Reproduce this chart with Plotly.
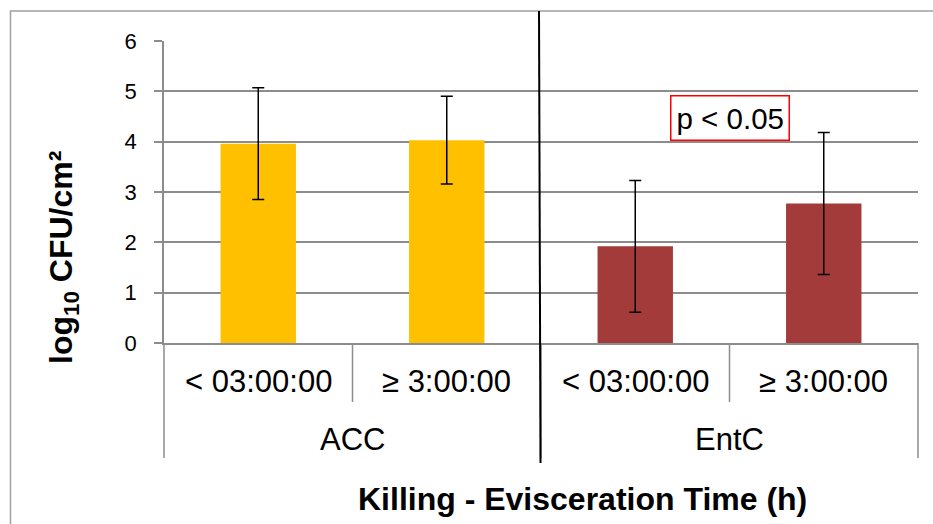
import plotly.graph_objects as go

groups = ["ACC", "ACC", "EntC", "EntC"]
times = ["< 03:00:00", "≥ 3:00:00", "< 03:00:00", "≥ 3:00:00"]
means = [3.96, 4.03, 1.92, 2.77]
errors = [1.11, 0.87, 1.31, 1.41]
bar_colors = ["#FFC000", "#FFC000", "#A33B3B", "#A33B3B"]
y_ticks = [0, 1, 2, 3, 4, 5, 6]
group_names = ["ACC", "EntC"]
p_label = "p < 0.05"
p_pos_y = 4.48

W, H = 933, 524
L, R, T, B = 164, 15, 41, 181
PW, PH = W - L - R, H - T - B

def px(xp):
    return (xp - L) / PW

def py(yp):
    return (H - B - yp) / PH

FONT = "Liberation Sans, Arial, sans-serif"
GRID = "#8c8c8c"

xs = list(range(len(means)))
fig = go.Figure()
fig.add_trace(go.Bar(
    x=xs, y=means, width=0.4, marker=dict(color=bar_colors, line=dict(width=0)),
    error_y=dict(type="data", array=errors, visible=True, color="black", thickness=1.5, width=6),
    showlegend=False,
))

shapes = []
# outer border
shapes.append(dict(type="rect", xref="paper", yref="paper", x0=px(10.5), x1=px(950), y0=py(545), y1=py(11),
                   line=dict(color="#a0a0a0", width=1.5), layer="below"))
n = len(means)
# category dividers
for k in range(n + 1):
    xb = k / n
    full = k in (0, n) or (k > 0 and k < n and groups[k - 1] != groups[k])
    shapes.append(dict(type="line", xref="paper", yref="paper", x0=xb, x1=xb, y0=0, y1=py(458 if full else 402),
                       line=dict(color=GRID, width=1.5)))
# black hand-drawn separator line
shapes.append(dict(type="line", xref="paper", yref="paper", x0=px(539), x1=px(540.5), y0=py(11), y1=py(463),
                   line=dict(color="black", width=2)))

annotations = []
for i, t in enumerate(times):
    annotations.append(dict(x=(i + 0.5) / n, xref="paper", y=py(382), yref="paper", text=t, showarrow=False,
                            font=dict(size=31, color="black", family=FONT), xanchor="center", yanchor="middle"))
for gi, g in enumerate(group_names):
    idx = [i for i, gg in enumerate(groups) if gg == g]
    cx = (min(idx) + max(idx) + 1) / 2 / n
    annotations.append(dict(x=cx, xref="paper", y=py(439), yref="paper", text=g, showarrow=False,
                            font=dict(size=31, color="black", family=FONT), xanchor="center", yanchor="middle"))
annotations.append(dict(x=px(582), xref="paper", y=py(499), yref="paper",
                        text="<b>Killing - Evisceration Time (h)</b>", showarrow=False,
                        font=dict(size=32, color="black", family=FONT), xanchor="center", yanchor="middle"))
annotations.append(dict(x=px(63), xref="paper", y=py(258), yref="paper",
                        text="<b>log<sub>10</sub> CFU/cm²</b>", showarrow=False, textangle=-90,
                        font=dict(size=32, color="black", family=FONT), xanchor="center", yanchor="middle"))
annotations.append(dict(x=2.5, xref="x", y=p_pos_y, yref="y", text=p_label, showarrow=False,
                        font=dict(size=29.5, color="black", family=FONT), xanchor="center", yanchor="middle",
                        bordercolor="red", borderwidth=1.5, borderpad=5, bgcolor="white"))

fig.update_layout(
    width=W, height=H, margin=dict(l=L, r=R, t=T, b=B, pad=0),
    paper_bgcolor="white", plot_bgcolor="white",
    font=dict(family=FONT, color="black"),
    shapes=shapes, annotations=annotations, bargap=0.6,
    xaxis=dict(range=[-0.5, n - 0.5], showticklabels=False, ticks="", showgrid=False, zeroline=False,
               showline=True, linecolor=GRID, linewidth=1.5, fixedrange=True),
    yaxis=dict(range=[0, 6], tickvals=y_ticks, ticks="outside", ticklen=8, tickcolor=GRID, tickwidth=1.5,
               showline=True, linecolor=GRID, linewidth=1.5, showgrid=True, gridcolor=GRID, gridwidth=1.5,
               zeroline=False, tickfont=dict(size=22, color="black", family=FONT), ticklabelstandoff=13),
)
fig.write_html("out.html")
